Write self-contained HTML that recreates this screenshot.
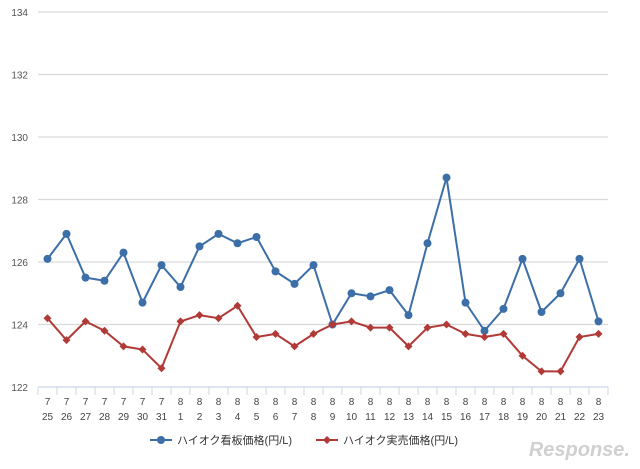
<!DOCTYPE html>
<html><head><meta charset="utf-8"><style>
body{margin:0;background:#fff;width:640px;height:464px;overflow:hidden;font-family:"Liberation Sans","Noto Sans CJK JP",sans-serif}
</style></head><body>
<svg id="chart" width="640" height="464" xmlns="http://www.w3.org/2000/svg" font-family="Liberation Sans, Noto Sans CJK JP, sans-serif"></svg>
<script>
const months=[7,7,7,7,7,7,7,8,8,8,8,8,8,8,8,8,8,8,8,8,8,8,8,8,8,8,8,8,8,8];
const days=[25,26,27,28,29,30,31,1,2,3,4,5,6,7,8,9,10,11,12,13,14,15,16,17,18,19,20,21,22,23];
const signPrice=[126.1,126.9,125.5,125.4,126.3,124.7,125.9,125.2,126.5,126.9,126.6,126.8,125.7,125.3,125.9,124.0,125.0,124.9,125.1,124.3,126.6,128.7,124.7,123.8,124.5,126.1,124.4,125.0,126.1,124.1];
const actualPrice=[124.2,123.5,124.1,123.8,123.3,123.2,122.6,124.1,124.3,124.2,124.6,123.6,123.7,123.3,123.7,124.0,124.1,123.9,123.9,123.3,123.9,124.0,123.7,123.6,123.7,123.0,122.5,122.5,123.6,123.7];
const yTicks=[122,124,126,128,130,132,134];
const svg=document.getElementById('chart');const NS='http://www.w3.org/2000/svg';
const L=38,R=608,T=12,B=387;
const band=(R-L)/days.length;
const x=i=>L+band*(i+0.5);
const y=v=>B-(v-122)/12*(B-T);
function mk(t,a,p){const e=document.createElementNS(NS,t);for(const k in a)e.setAttribute(k,a[k]);(p||svg).appendChild(e);return e;}
yTicks.forEach(v=>{
 const g=mk('line',{x1:L,x2:R,y1:y(v),y2:y(v),stroke:v===122?'#c9d7e6':'#d9d9d9','stroke-width':1.3});
 
 
 const t=mk('text',{x:L-10,y:y(v)+4,'text-anchor':'end','font-size':10,fill:'#555'});t.textContent=v;
 
 
});
for(let i=0;i<=days.length;i++){const tk=mk('line',{x1:L+band*i,x2:L+band*i,y1:B,y2:B+8,stroke:'#c9d7e6'});
 
 }
days.forEach((d,i)=>{
 const a=mk('text',{x:x(i),y:405,'text-anchor':'middle','font-size':10,fill:'#444'});a.textContent=months[i];
 
 
 const b=mk('text',{x:x(i),y:420,'text-anchor':'middle','font-size':10,fill:'#444'});b.textContent=d;
 
 
});
function series(vals,color,name,diamond){
 const p=mk('polyline',{points:vals.map((v,i)=>x(i)+','+y(v)).join(' '),fill:'none',stroke:color,'stroke-width':2});
 
 
 vals.forEach((v,i)=>{let m;
  if(diamond)m=mk('polygon',{points:`${x(i)},${y(v)-4} ${x(i)+4},${y(v)} ${x(i)},${y(v)+4} ${x(i)-4},${y(v)}`,fill:color});
  else m=mk('circle',{cx:x(i),cy:y(v),r:4,fill:color});
  
  
 });
}
series(signPrice,'#3c6ea8','sign-price',false);
series(actualPrice,'#b13a37','actual-price',true);
function legend(lx,color,label,diamond,name){
 const g=mk('g',{});
 
 
 mk('line',{x1:lx,x2:lx+22,y1:440,y2:440,stroke:color,'stroke-width':2},g);
 if(diamond)mk('polygon',{points:`${lx+11},436 ${lx+15},440 ${lx+11},444 ${lx+7},440`,fill:color},g);
 else mk('circle',{cx:lx+11,cy:440,r:4,fill:color},g);
 const t=mk('text',{x:lx+27,y:444,'font-size':11,fill:'#333'},g);t.textContent=label;
}
legend(150,'#3c6ea8','ハイオク看板価格(円/L)',false,'legend-sign-price');
legend(316,'#b13a37','ハイオク実売価格(円/L)',true,'legend-actual-price');
const w=mk('text',{x:630,y:456,'text-anchor':'end','font-size':20,'font-style':'italic','font-weight':'bold',fill:'#d0d0d0'});w.textContent='Response.';


</script>
</body></html>
